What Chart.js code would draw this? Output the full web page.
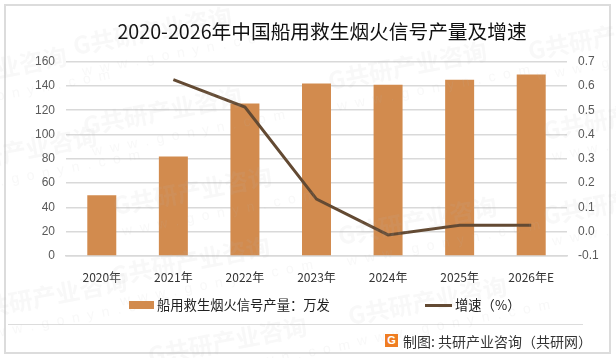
<!DOCTYPE html>
<html>
<head>
<meta charset="utf-8">
<script src="https://cdn.jsdelivr.net/npm/chart.js@4"></script>
<style>
  html, body { margin: 0; padding: 0; background: #fff; }
  body { width: 616px; height: 358px; position: relative; overflow: hidden; font-family: "Noto Sans CJK SC", sans-serif; }
  #frame { position: absolute; left: 4px; top: 4px; width: 603px; height: 346px; border: 2px solid #dcdcdc; }
  #rule { position: absolute; left: 8px; top: 324px; width: 575px; height: 1px; background: #dcdcdc; }
  canvas { position: absolute; left: 0; top: 0; }
  .legend { position: absolute; top: 295px; height: 20px; line-height: 20px; font-size: 13.3px; color: #222; white-space: nowrap; }
  .swatch { position: absolute; background: #d28b4e; left: 129px; top: 301px; width: 25px; height: 8px; }
  .lineKey { position: absolute; background: #634a33; left: 425px; top: 304px; width: 27px; height: 3px; }
  #source { position: absolute; left: 403px; top: 332px; font-size: 14px; line-height: 18px; color: #333; white-space: nowrap; }
  #logo { position: absolute; left: 385px; top: 334px; width: 13px; height: 13px; background: #ef7d22; color: #fff; font: bold 11px/13px "Liberation Sans"; text-align: center; }
</style>
</head>
<body>
<div id="frame"></div>
<div id="rule"></div>
<canvas id="chart" width="616" height="358"></canvas>
<div class="swatch"></div>
<div class="legend" style="left:157px">船用救生烟火信号产量：万发</div>
<div class="lineKey"></div>
<div class="legend" style="left:455px">增速（%）</div>
<div id="logo">G</div>
<div id="source">制图: 共研产业咨询（共研网）</div>
<script>
const titulo = "2020-2026年中国船用救生烟火信号产量及增速";
const categorias = ["2020年", "2021年", "2022年", "2023年", "2024年", "2025年", "2026年E"];
const produccion = [50, 82, 125.5, 142, 141, 145, 149.5];
const crecimiento = [null, 0.626, 0.513, 0.134, -0.013, 0.027, 0.027];
const marcasAgua = [
  [75, 55], [330, 90], [530, 60],
  [-90, 95], [85, 135], [545, 140],
  [-60, 175], [115, 215], [340, 245], [545, 225],
  [-30, 320], [113, 285], [350, 325], [150, 365]
];

/* marca de agua por encima de todo, muy tenue */
const marcaAgua = {
  id: "marcaAgua",
  afterDraw(chart) {
    let { ctx } = chart;
    marcasAgua.forEach(([x, y]) => {
      ctx.save();
      ctx.translate(x, y);
      ctx.rotate(-0.19);
      ctx.fillStyle = "rgba(190, 190, 190, .1)";
      ctx.font = 'bold 24px "Noto Sans CJK SC"';
      ctx.fillText("G共研产业咨询", 0, 0);
      ctx.font = '14px "Liberation Sans"';
      ctx.fillText("w  w  w  .  g  o  n  y  n  .  c  o  m", 4, 22);
      ctx.restore();
    });
  }
};

new Chart(document.getElementById("chart").getContext("2d"), {
  data: {
    labels: categorias,
    datasets: [
      {
        type: "line",
        label: "增速（%）",
        data: crecimiento,
        yAxisID: "y1",
        borderColor: "#634a33",
        borderWidth: 3,
        pointRadius: 0,
        tension: 0,
        order: 0
      },
      {
        type: "bar",
        label: "船用救生烟火信号产量：万发",
        data: produccion,
        yAxisID: "y",
        backgroundColor: "#d28b4e",
        barPercentage: 0.405,
        categoryPercentage: 1,
        order: 1
      }
    ]
  },
  options: {
    responsive: false,
    animation: false,
    layout: { padding: { left: 28 } },
    plugins: {
      legend: { display: false },
      tooltip: { enabled: false },
      title: {
        display: true,
        text: titulo,
        color: "#111",
        font: { family: '"Noto Sans CJK SC"', size: 19.7, weight: "normal" },
        padding: { top: 20, bottom: 18 }
      }
    },
    scales: {
      x: {
        offset: true,
        afterFit: (eje) => { eje.height = 102; },
        grid: { display: false },
        border: { color: "#d9d9d9", width: 1.5 },
        ticks: { color: "#333", padding: 6, maxRotation: 0, font: { family: '"Noto Sans CJK SC"', size: 12 } }
      },
      y: {
        position: "left",
        min: 0,
        max: 160,
        afterFit: (eje) => { eje.width = 38; },
        grid: { color: "#d9d9d9", lineWidth: 1.5, drawTicks: false },
        border: { display: false },
        ticks: { stepSize: 20, color: "#595959", padding: 11, font: { family: '"Liberation Sans"', size: 12 } }
      },
      y1: {
        position: "right",
        min: -0.1,
        max: 0.7,
        afterFit: (eje) => { eje.width = 49; },
        grid: { display: false, drawTicks: false },
        border: { display: false },
        ticks: {
          stepSize: 0.1,
          color: "#595959",
          padding: 11,
          font: { family: '"Liberation Sans"', size: 12 },
          callback: (valor) => (Math.abs(valor) < 0.001 ? 0 : Number(valor)).toFixed(1)
        }
      }
    }
  },
  plugins: [marcaAgua]
});
</script>
</body>
</html>
